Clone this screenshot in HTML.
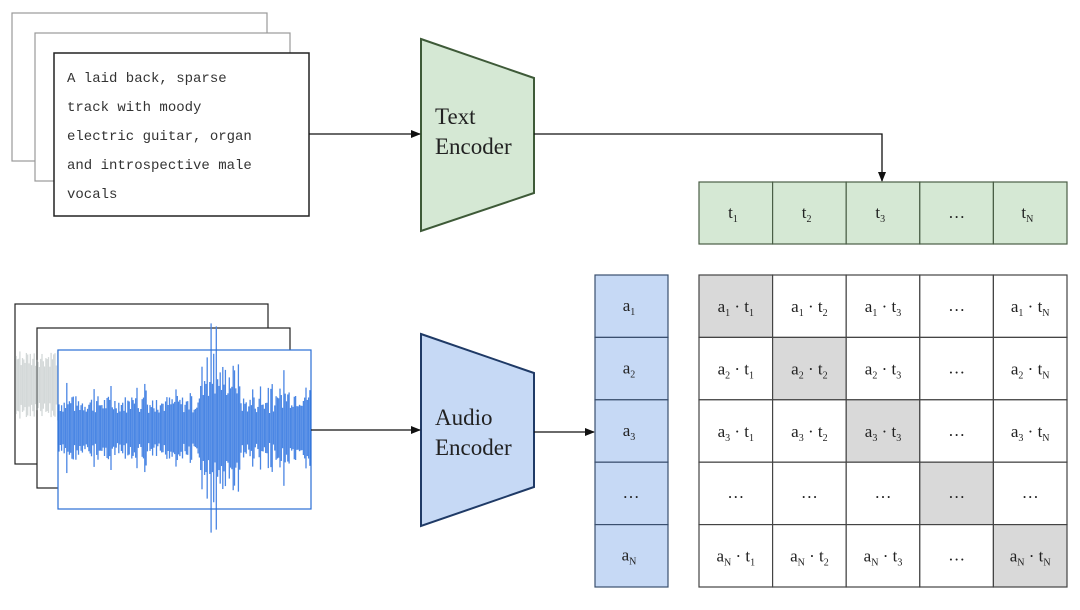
<!DOCTYPE html>
<html><head><meta charset="utf-8"><style>
html,body{margin:0;padding:0;background:#fff}
svg{display:block}
.s{font-family:"Liberation Serif",serif;font-size:17px;fill:#222}
.sub{font-size:10px}
.m{font-family:"Liberation Mono",monospace;font-size:14px;fill:#333}
</style></head><body>
<svg id="sv" width="1080" height="610" viewBox="0 0 1080 610" xmlns="http://www.w3.org/2000/svg">
<defs><marker id="ar" markerWidth="10" markerHeight="8" refX="9" refY="4" orient="auto" markerUnits="userSpaceOnUse"><path d="M0,0 L10,4 L0,8 z" fill="#111"/></marker></defs>
<!-- text cards -->
<rect x="12" y="13" width="255" height="148" fill="#fff" stroke="#999" stroke-width="1.2"/>
<rect x="35" y="33" width="255" height="148" fill="#fff" stroke="#999" stroke-width="1.2"/>
<rect x="54" y="53" width="255" height="163" fill="#fff" stroke="#222" stroke-width="1.5"/>
<text class="m" x="67" y="82">A laid back, sparse</text>
<text class="m" x="67" y="111">track with moody</text>
<text class="m" x="67" y="140">electric guitar, organ</text>
<text class="m" x="67" y="169">and introspective male</text>
<text class="m" x="67" y="198">vocals</text>
<!-- audio cards -->
<rect x="15" y="304" width="253" height="160" fill="#fff" stroke="#222" stroke-width="1.2"/>
<rect x="37" y="328" width="253" height="160" fill="#fff" stroke="#222" stroke-width="1.2"/>
<g id="ghost" opacity="0.5"><polygon points="16,360 30,345 38,340 38,420 30,410 16,400" fill="#9aa"/></g>
<rect x="58" y="350" width="253" height="159" fill="#fff"/>
<g id="wave"><polygon points="58,395 100,390 140,385 190,382 205,370 225,365 240,380 280,385 311,380 311,470 280,465 240,470 225,490 205,485 190,470 140,460 100,460 58,455" fill="#3d7ee0" opacity="0.85"/></g>
<rect x="58" y="350" width="253" height="159" fill="none" stroke="#2a6fd6" stroke-width="1.2"/>
<!-- encoders -->
<polygon points="421,39 534,78 534,193 421,231" fill="#d5e8d4" stroke="#3e5a38" stroke-width="2"/>
<text class="s" x="435" y="124" style="font-size:23px">Text</text>
<text class="s" x="435" y="154" style="font-size:23px">Encoder</text>
<polygon points="421,334 534,373 534,487 421,526" fill="#c6d9f5" stroke="#1f3a66" stroke-width="2"/>
<text class="s" x="435" y="425" style="font-size:23px">Audio</text>
<text class="s" x="435" y="455" style="font-size:23px">Encoder</text>
<!-- arrows -->
<g stroke="#111" stroke-width="1.3" fill="none">
<line x1="309" y1="134" x2="420" y2="134" marker-end="url(#ar)"/>
<polyline points="534,134 882,134 882,181" marker-end="url(#ar)"/>
<line x1="311" y1="430" x2="420" y2="430" marker-end="url(#ar)"/>
<line x1="534" y1="432" x2="594" y2="432" marker-end="url(#ar)"/>
</g>
<g id="grid"></g>
</svg>
<script>
var g=document.getElementById('grid'),NS='http://www.w3.org/2000/svg',h='';
function T(x,y,b,s){return '<text class="s" x="'+x+'" y="'+y+'" text-anchor="middle">'+b+'<tspan class="sub" dy="4">'+s+'</tspan></text>';}
var subs=['1','2','3','','N'];
for(var i=0;i<5;i++){var x=699+i*73.6;
 h+='<rect x="'+x+'" y="182" width="73.6" height="62" fill="#d5e8d4" stroke="#4a5e46" stroke-width="1.2"/>';
 h+= i==3?'<text class="s" x="'+(x+36.8)+'" y="218" text-anchor="middle">…</text>':T(x+34,218,'t',subs[i]);
}
for(var j=0;j<5;j++){var y=275+j*62.4;
 h+='<rect x="595" y="'+y+'" width="73" height="62.4" fill="#c6d9f5" stroke="#3a4f6e" stroke-width="1.2"/>';
 h+= j==3?'<text class="s" x="631" y="'+(y+36)+'" text-anchor="middle">…</text>':T(629,y+36,'a',subs[j]);
 for(var i=0;i<5;i++){var x=699+i*73.6;
  h+='<rect x="'+x+'" y="'+y+'" width="73.6" height="62.4" fill="'+(i==j?'#d9d9d9':'#fff')+'" stroke="#444" stroke-width="1.2"/>';
  var cx=x+36.8,cy=y+37;
  if(i==3||j==3)h+='<text class="s" x="'+cx+'" y="'+(cy-1)+'" text-anchor="middle">…</text>';
  else h+='<text class="s" x="'+cx+'" y="'+cy+'" text-anchor="middle">a<tspan class="sub" dy="4">'+subs[j]+'</tspan><tspan dy="-4"> · t</tspan><tspan class="sub" dy="4">'+subs[i]+'</tspan></text>';
 }}
g.innerHTML=h;
// waveform
var w=document.getElementById('wave'),s='',r=7;function rnd(){r=(r*9301+49297)%233280;return r/233280;}
for(var x=59;x<311;x+=1.3){var e=25+(x>200&&x<240?25:0)+(x>280?8:0);var a=e*(0.6+0.7*rnd());if(rnd()<0.12)a*=1.7;
 s+='<line x1="'+x+'" y1="'+(428-a)+'" x2="'+x+'" y2="'+(428+a)+'" stroke="#4a86e4" stroke-width="1.3"/>';}
w.innerHTML=s;
var gh=document.getElementById('ghost'),q='';
for(var x=16;x<58;x+=1.3){var a=30*(0.6+0.6*rnd());q+='<line x1="'+x+'" y1="'+(385-a)+'" x2="'+x+'" y2="'+(385+a)+'" stroke="#a9b3b3" stroke-width="1.3"/>';}
gh.innerHTML=q;
</script>
</body></html>
